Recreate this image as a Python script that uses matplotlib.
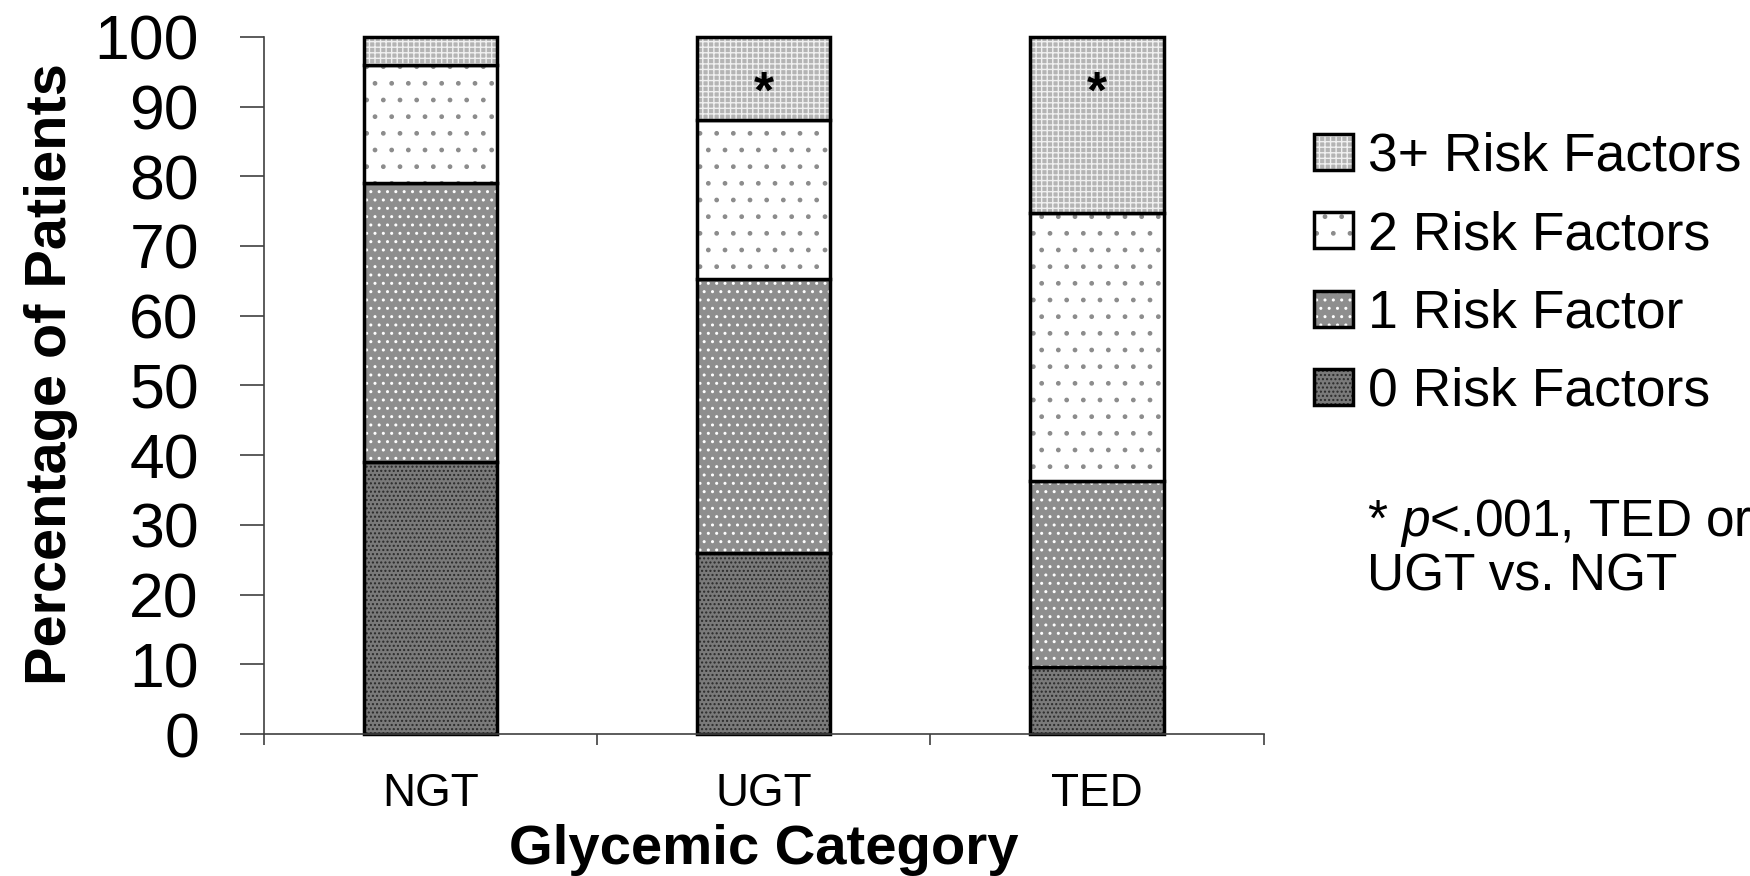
import numpy as np
import matplotlib
matplotlib.use('Agg')
import matplotlib.pyplot as plt
from matplotlib.legend_handler import HandlerTuple

plt.rcParams['font.family'] = 'Liberation Sans'
plt.rcParams['mathtext.fontset'] = 'custom'
plt.rcParams['mathtext.rm'] = 'Liberation Sans'
plt.rcParams['mathtext.it'] = 'Liberation Sans:italic'
plt.rcParams['hatch.linewidth'] = 1.0

# data
categories = ['NGT', 'UGT', 'TED']
series = ['0 Risk Factors', '1 Risk Factor', '2 Risk Factors', '3+ Risk Factors']
rf0 = [39.0, 26.0, 9.6]
rf1 = [40.0, 39.3, 26.7]
rf2 = [17.0, 22.7, 38.5]
rf3 = [4.0, 12.0, 25.2]
signif = ['', '*', '*']
yticks = list(range(0, 101, 10))

# fill colour, hatch, hatch colour per series
styles = [
    ('#7a7a7a', '....', '#2a2a2a'),
    ('#8e8e8e', '..', '#ffffff'),
    ('#ffffff', '.', '#8c8c8c'),
    ('#b4b4b4', '+++', '#f0f0f0'),
]

fig = plt.figure(figsize=(17.5, 8.76), dpi=100)
ax = fig.add_axes([0.151, 0.162, 0.571, 0.796])

x = np.arange(len(categories))
width = 0.4
bottom = np.zeros(len(categories))
handles = []
for vals, (face, hatch, hcol), name in zip([rf0, rf1, rf2, rf3], styles, series):
    vals = np.array(vals)
    fill = ax.bar(x, vals, width, bottom=bottom, color=face, edgecolor=hcol,
                  hatch=hatch, linewidth=0)
    edge = ax.bar(x, vals, width, bottom=bottom, fill=False, edgecolor='black',
                  linewidth=2.5, clip_on=False)
    handles.append((fill[0], edge[0]))
    bottom = bottom + vals

for xi, s in zip(x, signif):
    if s:
        ax.text(xi, 91.8, s, ha='center', va='center', fontsize=37,
                fontweight='bold')

ax.set_xlim(-0.5, 2.5)
ax.set_ylim(0, 100)
ax.set_yticks(yticks)
ax.tick_params(axis='y', length=17, width=1.2, color='#404040', labelsize=45,
               pad=30, direction='out')
ax.set_xticks(np.arange(-0.5, 3, 1))
ax.set_xticklabels([])
ax.tick_params(axis='x', which='major', length=8, width=1.2, color='#404040')
ax.set_xticks(x, minor=True)
ax.set_xticklabels(categories, minor=True)
ax.tick_params(axis='x', which='minor', length=0, labelsize=33, pad=27)

for side in ['top', 'right']:
    ax.spines[side].set_visible(False)
for side in ['left', 'bottom']:
    ax.spines[side].set_color('#404040')
    ax.spines[side].set_linewidth(1.2)

ax.set_xlabel('Glycemic Category', fontsize=40.5, fontweight='bold', labelpad=6)
ax.set_ylabel('Percentage of Patients', fontsize=41.5, fontweight='bold',
              va='center')
ax.yaxis.set_label_coords(-0.213, 0.516)

fig.legend(handles[::-1], series[::-1], handler_map={tuple: HandlerTuple(ndivide=1)},
           loc='center left', bbox_to_anchor=(0.751, 0.687), frameon=False,
           fontsize=38.5, labelspacing=0.53, handlelength=0.72, handleheight=0.66,
           handletextpad=0.28, borderpad=0, borderaxespad=0)

fig.text(0.781, 0.3727, '* $\\it{p}$<.001, TED or\nUGT vs. NGT', fontsize=37,
         ha='left', va='center', linespacing=1.1)

fig.savefig('out.png', dpi=100)
